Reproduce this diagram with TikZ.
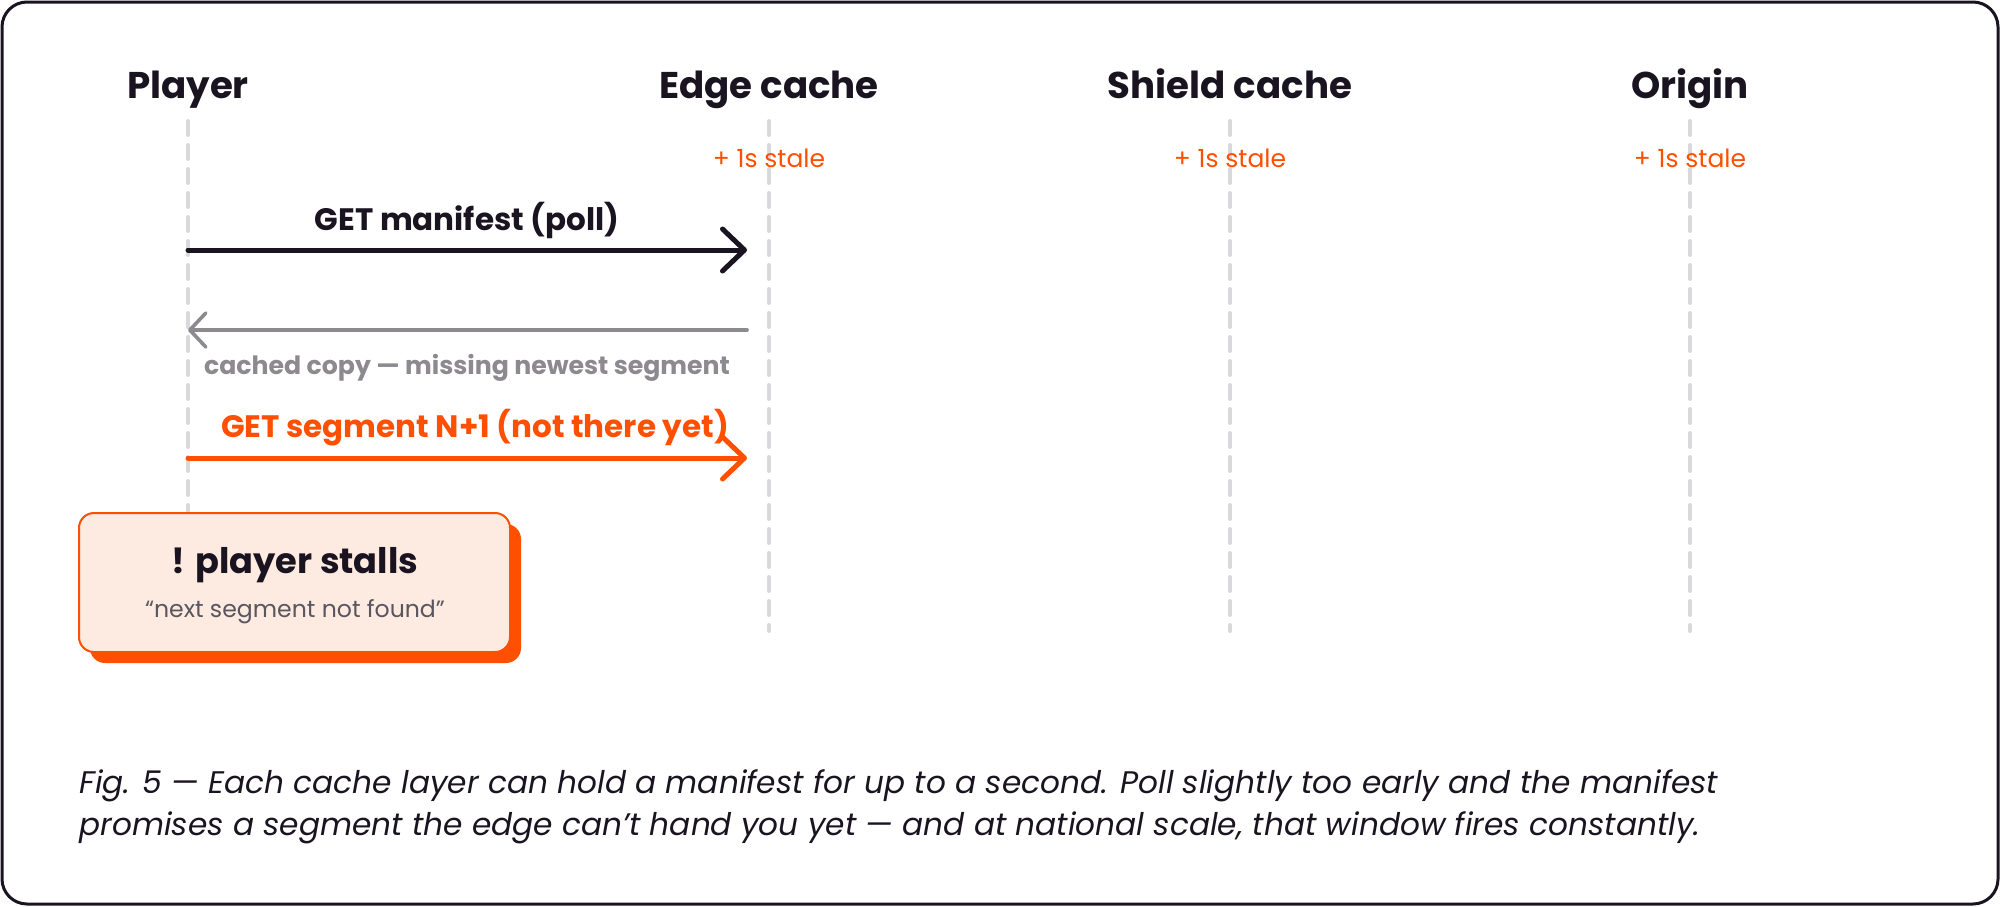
\documentclass[tikz,border=0pt]{standalone}
\usepackage{fontspec}
\setmainfont{Poppins}
\usepackage{tikz}
\usetikzlibrary{positioning}
\usetikzlibrary{arrows.meta,shadows}
\definecolor{ink}{HTML}{1A1320}
\definecolor{flame}{HTML}{FF4F00}
\definecolor{ash}{HTML}{8C898F}
\definecolor{rail}{HTML}{D9D8DB}
\definecolor{blush}{HTML}{FDEAE1}
\definecolor{slate}{HTML}{5A5660}
\tikzset{
  head/.style={font=\fontsize{18.6}{22}\selectfont\bfseries,text=ink,anchor=base,inner sep=0pt},
  stale/.style={font=\fontsize{12.5}{15}\selectfont,text=flame,anchor=base,inner sep=0pt},
  lifeline/.style={rail,line width=2pt,dash pattern=on 7pt off 5pt,line cap=round},
  msg/.style={line width=2.5pt,line cap=round,-{Straight Barb[length=11pt,width=21pt,line width=2.5pt,round]}},
  reply/.style={ash,line width=1.8pt,line cap=round,-{Straight Barb[length=8pt,width=17pt,line width=1.8pt,round]}},
  msglabel/.style={font=\fontsize{15.5}{19}\selectfont\bfseries,anchor=base,inner sep=0pt},
  replylabel/.style={font=\fontsize{12.6}{15}\selectfont\bfseries,text=ash,anchor=base,inner sep=0pt},
  stallbox/.style={draw=flame,line width=1pt,fill=blush,rounded corners=7.5pt,
    minimum width=215.5pt,minimum height=69.5pt,inner sep=0pt,
    drop shadow={shadow xshift=5.5pt,shadow yshift=-5.5pt,fill=flame,opacity=1}},
  caption/.style={font=\fontsize{15.6}{21}\selectfont\itshape,text=ink,anchor=base west,align=left,inner sep=0pt}
}

\begin{document}
\begin{tikzpicture}[x=0.5pt,y=-0.5pt]
	\useasboundingbox (0,0) rectangle (2000,906);
	%Frame
	\draw[ink,line width=1.5pt,rounded corners=12.5pt] (2,2) rectangle (1998,904);

	%Lifelines
	\node[head] (player) at (188,98) {Player};
	\node[head] (edge) at (769,98) {Edge cache};
	\node[head] (shield) at (1230,98) {Shield cache};
	\node[head] (origin) at (1690,98) {Origin};
	\foreach \who/\x in {player/188,edge/769,shield/1230,origin/1690}{
		\coordinate (\who-top) at (\x,121);
		\coordinate (\who-bot) at (\x,631);
		\draw[lifeline] (\who-top) -- (\who-bot);
	}
	\foreach \who/\x in {edge/769,shield/1230,origin/1690}
		\node[stale] (\who-stale) at (\x,167) {+ 1s stale};

	%Messages
	\coordinate (poll-a) at (188,250);
	\coordinate (poll-b) at (747,250);
	\coordinate (copy-a) at (747,330);
	\coordinate (copy-b) at (188,330);
	\coordinate (seg-a) at (188,458);
	\coordinate (seg-b) at (747,458);
	\draw[msg,ink] (poll-a) -- (poll-b);
	\draw[reply] (copy-a) -- (copy-b);
	\draw[msg,flame] (seg-a) -- (seg-b);
	\node[msglabel,text=ink] (poll) at (467,230) {GET manifest (poll)};
	\node[replylabel] (copy) at (467,374) {cached copy — missing newest segment};
	\node[msglabel,text=flame] (seg) at (475,437) {GET segment N+1 (not there yet)};

	%Stall
	\node[stallbox] (stall) at (294.5,582.5) {};
	\node[font=\fontsize{17.6}{21}\selectfont\bfseries,text=ink,anchor=base,inner sep=0pt] (stall-title) at (295,573) {! player stalls};
	\node[font=\fontsize{11.8}{14}\selectfont,text=slate,anchor=base,inner sep=0pt] (stall-note) at (295,617) {“next segment not found”};

	%Caption
	\node[caption] (fig) at (79,835) {Fig. 5 — Each cache layer can hold a manifest for up to a second. Poll slightly too early and the manifest\\promises a segment the edge can’t hand you yet — and at national scale, that window fires constantly.};
\end{tikzpicture}
\end{document}
